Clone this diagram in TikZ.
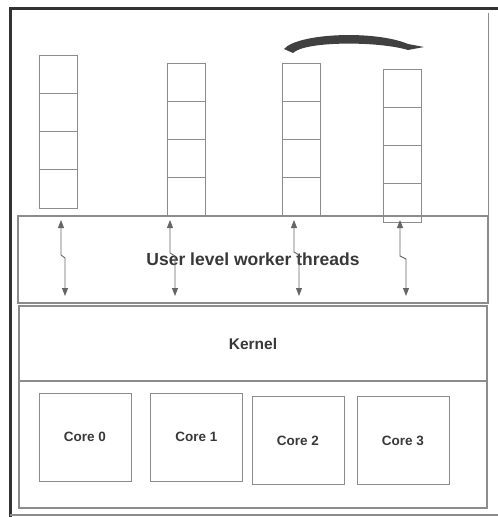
\documentclass[tikz,border=0pt]{standalone}
\usepackage{fontspec}
\setmainfont{Liberation Sans}
\usetikzlibrary{arrows.meta,positioning}
\definecolor{linegrey}{HTML}{8C8C8C}
\definecolor{textgrey}{HTML}{383838}
\tikzset{
  cell/.style={draw=linegrey,line width=1pt,minimum width=38pt,minimum height=38.25pt,inner sep=0pt},
  layer/.style={draw=linegrey,line width=1.1pt,inner sep=0pt,font=\bfseries,text=textgrey},
  core/.style={draw=linegrey,line width=1pt,minimum width=92pt,minimum height=88pt,inner sep=0pt,font=\bfseries\fontsize{13.5}{16}\selectfont,text=textgrey},
  link/.style={draw=black!60,line width=0.9pt,{Triangle[length=8pt,width=6pt]}-{Triangle[length=8pt,width=6pt]}}
}
\begin{document}
\begin{tikzpicture}[x=1pt,y=-1pt]
    \useasboundingbox (0,0) rectangle (498,517);
    % frame
    \draw[line width=3pt,black!80] (498,8) -- (10,8) -- (10,517);
    \draw[linegrey,line width=1.5pt] (10,515) -- (498,515);
    \draw[linegrey,line width=1pt] (488,13) -- (488,216);
    % layers
    \node[layer,minimum width=470pt,minimum height=87pt,font=\bfseries\fontsize{17.5}{20}\selectfont]
        (user) at (253,259.5) {User level worker threads};
    \node[layer,minimum width=468pt,minimum height=75pt,font=\bfseries\fontsize{15.5}{18}\selectfont]
        (kernel) at (253,343.5) {Kernel};
    \node[layer,minimum width=468pt,minimum height=127pt] (hw) at (253,444.5) {};
    % run queues
    \foreach \s/\x/\y in {1/58.5/55,2/186/63,3/301/63,4/402.5/69} {
        \foreach \c in {1,...,4} {
            \node[cell] (s\s c\c) at (\x,{\y+38.25*\c-19.125}) {};
        }
    }
    % links to the kernel
    \foreach \s/\a/\b/\k in {1/61/65/35,2/170/175/33,3/294/299/32,4/400/406/36} {
        \coordinate (up\s) at (\a,220);
        \coordinate (dn\s) at (\b,296);
        \draw[link] (up\s) -- ++(0,\k) -- ++(\b-\a,3) -- (dn\s);
    }
    % work stealing
    \fill[black!75] (284,49) .. controls (298,33) and (375,30) .. (408,44)
        -- (424,47) -- (408,50) .. controls (378,41) and (305,41) .. (293,53) -- cycle;
    % cores
    \node[core] (core0) at (85,437) {Core 0};
    \node[core] (core1) at (196.5,437) {Core 1};
    \node[core] (core2) at (298,440.5) {Core 2};
    \node[core] (core3) at (403,440.5) {Core 3};
\end{tikzpicture}
\end{document}
